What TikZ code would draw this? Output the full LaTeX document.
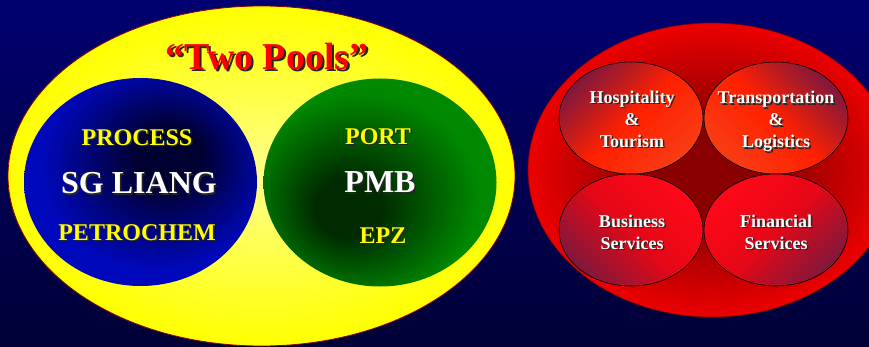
\documentclass[tikz,border=0pt]{standalone}
\usepackage{fontspec}
\setmainfont{Liberation Serif}
\usetikzlibrary{shapes.geometric}
\definecolor{bg_top}{HTML}{000070}
\definecolor{bg_bottom}{HTML}{000036}
\definecolor{pool_blue}{HTML}{0008BC}
\definecolor{pool_navy}{HTML}{000030}
\definecolor{pool_green}{HTML}{008800}
\definecolor{pool_dark}{HTML}{002A00}
\definecolor{hub_red}{HTML}{EC0000}
\definecolor{hub_dark}{HTML}{8A0000}
\definecolor{sector_orange}{HTML}{F83C14}
\definecolor{sector_red}{HTML}{FF0818}
\definecolor{sector_purple}{HTML}{80183C}
\definecolor{text_yellow}{HTML}{FFFF00}

% the path's edge sits at 25bp in these shadings
\pgfdeclareradialshading{bluepool}{\pgfpoint{7bp}{7bp}}{color(0bp)=(pool_navy); color(7bp)=(pool_navy); color(25bp)=(pool_blue); color(50bp)=(pool_blue)}
\pgfdeclareradialshading{greenpool}{\pgfpoint{-8bp}{-7bp}}{color(0bp)=(pool_dark); color(7bp)=(pool_dark); color(25bp)=(pool_green); color(50bp)=(pool_green)}
\pgfdeclareradialshading{redhub}{\pgfpoint{0bp}{0bp}}{color(0bp)=(hub_dark); color(8bp)=(hub_dark); color(25bp)=(hub_red); color(50bp)=(hub_red)}

% text with a dark drop shadow
\newcommand{\shadowed}[2][1.5pt]{\leavevmode\rlap{\kern#1\raisebox{-#1}{\textcolor{black!85}{#2}}}#2}

\begin{document}
\begin{tikzpicture}[x=1pt, y=-1pt,
                    pool/.style={ellipse, inner sep=0pt, outer sep=0pt, minimum width=233pt, minimum height=208pt},
                    sector/.style={ellipse, draw=black, line width=0.6pt, inner sep=0pt, minimum width=144pt, minimum height=112pt},
                    small_caps/.style={text=text_yellow, font=\bfseries\fontsize{24}{28}\selectfont},
                    big_caps/.style={text=white, font=\bfseries\fontsize{32}{36}\selectfont},
                    sector_text/.style={text=white, align=center, font=\bfseries\fontsize{18}{22}\selectfont}]

  % Background
  \shade[top color=bg_top, bottom color=bg_bottom] (0,0) rectangle (869,347);
  \clip (0,0) rectangle (869,347);

  % Two pools
  \node[ellipse, draw=red!55!black, line width=0.8pt, inner sep=0pt,
        minimum width=507pt, minimum height=340pt,
        inner color=yellow!45!white, outer color=yellow] (yolk) at (261.5,176) {};
  \node[pool, shading=bluepool] (sg_pool) at (140.5,182) {};
  \node[pool, shading=greenpool] (pmb_pool) at (380,182.5) {};

  \node[text=red, font=\bfseries\fontsize{38}{42}\selectfont] (title) at (267,58) {\shadowed[2pt]{“Two Pools”}};

  \node[small_caps] (process) at (137,138) {\shadowed{PROCESS}};
  \node[big_caps] (sg) at (139,184) {\shadowed{SG LIANG}};
  \node[small_caps] (petrochem) at (137,233) {\shadowed{PETROCHEM}};

  \node[small_caps] (port) at (378,137) {\shadowed{PORT}};
  \node[big_caps] (pmb) at (380,183) {\shadowed{PMB}};
  \node[small_caps] (epz) at (383,236) {\shadowed{EPZ}};

  % Services hub
  \node[ellipse, draw=red!50!black, line width=0.6pt, inner sep=0pt,
        minimum width=368pt, minimum height=294pt, shading=redhub] (hub) at (712,170) {};

  \node[sector, top color=sector_purple, bottom color=sector_orange, middle color=red!75!orange, shading angle=45] (hosp) at (631,118) {};
  \node[sector, top color=sector_purple, bottom color=sector_orange, middle color=red!75!orange, shading angle=-45] (trans) at (776,118) {};
  \node[sector, top color=sector_red, bottom color=sector_purple, middle color=sector_red!90!black, shading angle=-45] (business) at (631,230) {};
  \node[sector, top color=sector_red, bottom color=sector_purple, middle color=sector_red!90!black, shading angle=45] (finance) at (776,230) {};

  \node[sector_text] (hosp_text) at (632,120) {\shadowed{Hospitality}\\\shadowed{\&}\\\shadowed{Tourism}};
  \node[sector_text] (trans_text) at (776,122) {\shadowed{Transportation}\\\shadowed{\&}\\\shadowed{Logistics}};
  \node[sector_text] (business_text) at (632,233) {\shadowed{Business}\\\shadowed{Services}};
  \node[sector_text] (finance_text) at (776,233) {\shadowed{Financial}\\\shadowed{Services}};

\end{tikzpicture}
\end{document}
